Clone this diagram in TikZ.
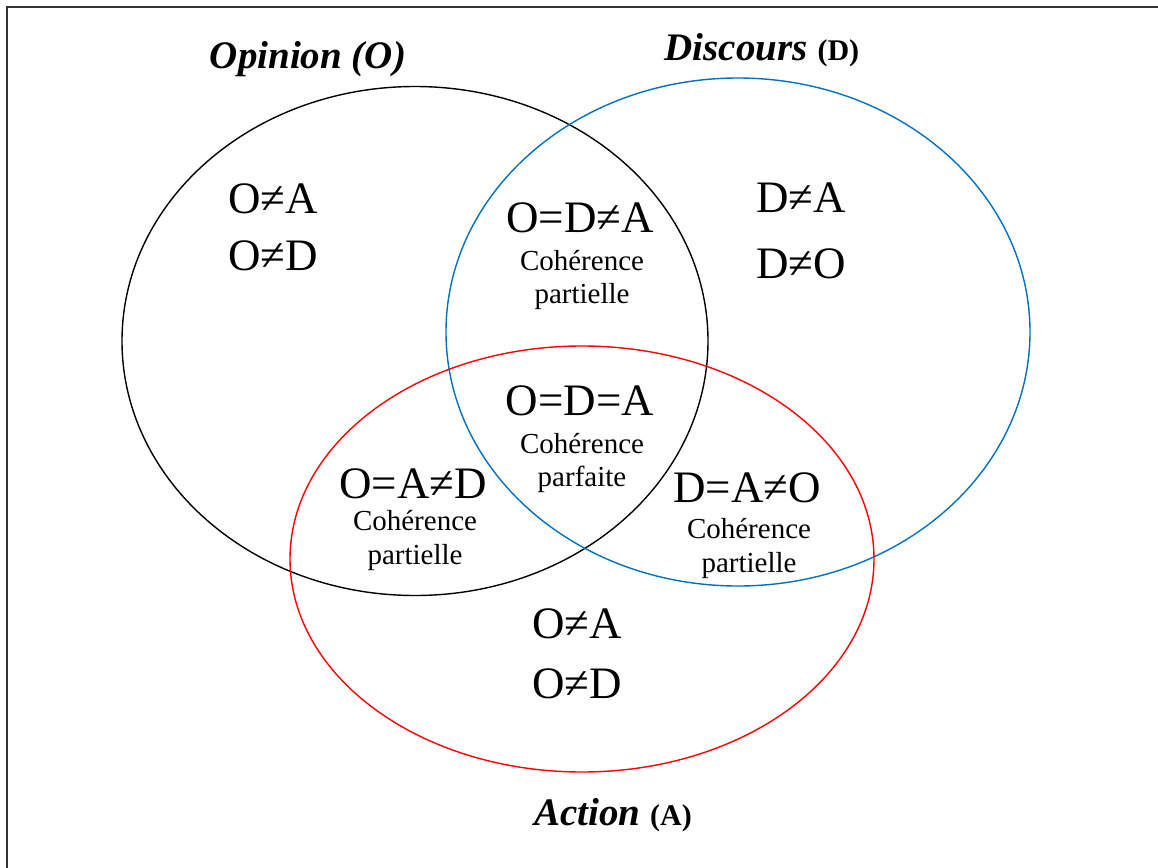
\documentclass[tikz,border=0pt]{standalone}
\usepackage{fontspec}
\setmainfont{Liberation Serif}
\usetikzlibrary{shapes.geometric}
\definecolor{dblue}{RGB}{0,112,192}
\definecolor{dred}{RGB}{255,0,0}
\begin{document}
\begin{tikzpicture}[x=0.5pt,y=-0.5pt,
  setbox/.style={ellipse,draw,line width=0.7pt,inner sep=0pt,outer sep=0pt},
  big/.style={anchor=base,inner sep=0pt,font=\fontsize{22.5}{27}\selectfont},
  small/.style={anchor=base,inner sep=0pt,font=\fontsize{14.5}{17}\selectfont},
  title/.style={anchor=base,inner sep=0pt,font=\fontsize{19.5}{23}\selectfont\bfseries\itshape},
  frameline/.style={line width=1pt,draw=black!80}]
\useasboundingbox (0,0) rectangle (1158,868);
% frame (top and left only)
\coordinate (fa) at (6.5,868);
\coordinate (fb) at (6.5,6.5);
\coordinate (fc) at (1158,6.5);
\draw[frameline] (fa) -- (fb) -- (fc);
% sets
\node[setbox,draw=black,minimum width=293pt,minimum height=254.5pt] (O) at (415,341) {};
\node[setbox,draw=dblue,minimum width=292pt,minimum height=254pt] (D) at (738,332) {};
\node[setbox,draw=dred,minimum width=292pt,minimum height=213pt] (A) at (582,559) {};
% titles
\node[title] (tO) at (308,68) {Opinion (O)};
\node[title] (tD) at (762,60) {Discours {\fontsize{15}{17}\selectfont\upshape (D)}};
\node[title] (tA) at (613,825) {Action {\fontsize{15}{17}\selectfont\upshape (A)}};
% O only
\node[big] (o1) at (273,213) {O≠A};
\node[big] (o2) at (273,270) {O≠D};
% D only
\node[big] (d1) at (801,212) {D≠A};
\node[big] (d2) at (801,278) {D≠O};
% O and D
\node[big] (od1) at (580,232) {O=D≠A};
\node[small] (od2) at (582,270) {Cohérence};
\node[small] (od3) at (582,303) {partielle};
% all three
\node[big] (all1) at (580,415) {O=D=A};
\node[small] (all2) at (582,453) {Cohérence};
\node[small] (all3) at (582,486) {parfaite};
% O and A
\node[big] (oa1) at (413,498) {O=A≠D};
\node[small] (oa2) at (415,530) {Cohérence};
\node[small] (oa3) at (415,564) {partielle};
% D and A
\node[big] (da1) at (747,502) {D=A≠O};
\node[small] (da2) at (749,538) {Cohérence};
\node[small] (da3) at (749,572) {partielle};
% A only
\node[big] (a1) at (577,638) {O≠A};
\node[big] (a2) at (577,698) {O≠D};
\end{tikzpicture}
\end{document}
